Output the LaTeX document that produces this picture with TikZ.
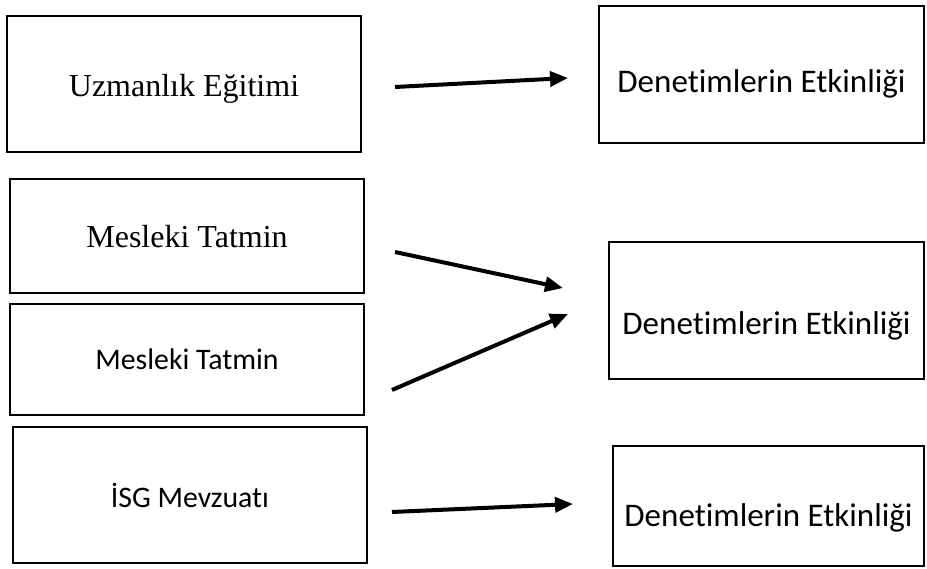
\documentclass[tikz,border=0pt]{standalone}
\usepackage{fontspec}
\setmainfont{Liberation Serif}
\newfontfamily\calibri[Ligatures=NoCommon]{Carlito}
\usetikzlibrary{arrows.meta}
\tikzset{
    box/.style={draw, line width=1.1pt, inner sep=0pt, text depth=0pt},
    serif/.style={font=\fontsize{32}{38}\selectfont},
    sans/.style={font=\calibri\fontsize{#1}{38}\selectfont},
    sans/.default=33,
    arr/.style={line width=4pt, -{Triangle[length=18pt,width=15pt]}}
}
\begin{document}
\begin{tikzpicture}[x=1pt,y=-1pt]
\useasboundingbox (0,0) rectangle (927,569);
\node[box,serif,minimum width=354pt,minimum height=136pt,text height=26pt] (UE) at (184,84) {Uzmanlık Eğitimi};
\node[box,sans,minimum width=325pt,minimum height=137pt,text height=37pt] (DE1) at (761.5,74.5) {Denetimlerin Etkinliği};
\node[box,serif,minimum width=354pt,minimum height=114pt,text height=24pt] (MT1) at (187,236) {Mesleki Tatmin};
\node[box,sans=29.8,minimum width=354pt,minimum height=111pt,text height=21pt] (MT2) at (187,359.5) {Mesleki Tatmin};
\node[box,sans,minimum width=315pt,minimum height=137pt,text height=49pt] (DE2) at (766.5,310.5) {Denetimlerin Etkinliği};
\node[box,sans=29.8,minimum width=354pt,minimum height=136pt,text height=24pt] (ISG) at (190,495) {İSG Mevzuatı};
\node[box,sans,minimum width=311pt,minimum height=120pt,text height=40pt] (DE3) at (768.5,506) {Denetimlerin Etkinliği};
\coordinate (a1) at (395,87);
\coordinate (b1) at (568,78);
\coordinate (a2) at (395,252);
\coordinate (b2) at (563,288);
\coordinate (a3) at (392,390);
\coordinate (b3) at (568,314);
\coordinate (a4) at (392,512);
\coordinate (b4) at (573,504);
\draw[arr] (a1) -- (b1);
\draw[arr] (a2) -- (b2);
\draw[arr] (a3) -- (b3);
\draw[arr] (a4) -- (b4);
\end{tikzpicture}
\end{document}
